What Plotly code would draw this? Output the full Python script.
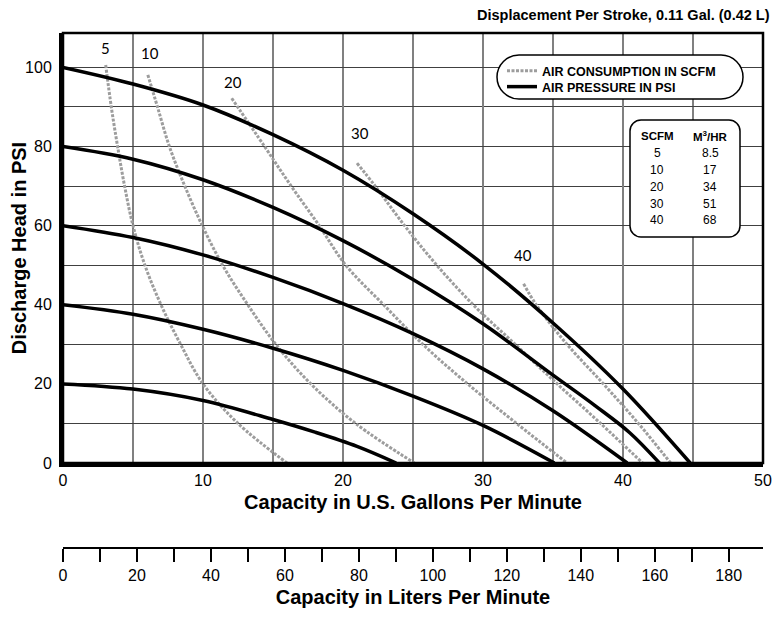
import plotly.graph_objects as go

# ---------------- data ----------------
GAL_TO_L = 3.785411784
GPM_MAX = 50
PSI_MAX = 108.7

# air pressure curves (PSI): capacity (gpm) vs discharge head (psi)
P20_GPM = [0, 5, 10, 15, 18, 21, 23.8]
P20_PSI = [20, 18.7, 15.8, 11.0, 7.8, 4.2, 0]
P40_GPM = [0, 5, 10, 15, 20, 25, 30, 35.1]
P40_PSI = [40, 37.6, 33.8, 29, 23.4, 16.9, 9.5, 0]
P60_GPM = [0, 5, 10, 15, 20, 25, 30, 35, 40.3]
P60_PSI = [60, 57, 52.6, 46.9, 40.3, 32.7, 23.8, 13.2, 0]
P80_GPM = [0, 5, 10, 15, 20, 25, 30, 35, 38, 40.5, 42.6]
P80_PSI = [80, 76.8, 71.6, 64.6, 56.2, 46.4, 35.2, 22.2, 14.5, 7.6, 0]
P100_GPM = [0, 5, 10, 15, 20, 25, 30, 35, 40, 44.8]
P100_PSI = [100, 95.8, 90.5, 83, 74, 63, 50.3, 35.4, 18.7, 0]

# air consumption curves (SCFM)
A5_GPM = [3.05, 3.45, 3.9, 4.4, 5.0, 5.85, 7.0, 8.4, 10.0, 12.5, 16.0]
A5_PSI = [100.6, 90, 80, 70, 60, 50, 40, 30, 20, 10, 0]
A10_GPM = [6.06, 6.75, 7.6, 8.7, 9.95, 11.4, 13.2, 15.2, 17.7, 20.9, 25.1]
A10_PSI = [98.1, 90, 80, 70, 60, 50, 40, 30, 20, 10, 0]
A20_GPM = [12.05, 14.4, 16.3, 18.3, 20.2, 22.9, 25.7, 28.9, 32.4, 36.0]
A20_PSI = [92.2, 80, 70, 60, 50, 40, 30, 20, 10, 0]
A30_GPM = [21.0, 22.3, 24.4, 26.7, 29.3, 32.3, 35.3, 38.4, 41.4]
A30_PSI = [75.8, 70, 60, 50, 40, 30, 20, 10, 0]
A40_GPM = [32.9, 33.8, 36.0, 38.6, 41.1, 43.4]
A40_PSI = [45.3, 40, 30, 20, 10, 0]

SCFM_LABELS = ["5", "10", "20", "30", "40"]
M3HR_LABELS = ["8.5", "17", "34", "51", "68"]

pressure = [(P20_GPM, P20_PSI), (P40_GPM, P40_PSI), (P60_GPM, P60_PSI),
            (P80_GPM, P80_PSI), (P100_GPM, P100_PSI)]
air = [(A5_GPM, A5_PSI), (A10_GPM, A10_PSI), (A20_GPM, A20_PSI),
       (A30_GPM, A30_PSI), (A40_GPM, A40_PSI)]

# ---------------- layout helpers ----------------
OFF = 8                      # page body margin
W, H = 784 - 2 * OFF, 622 - 2 * OFF
ML = 63 - OFF
MT = 33 - OFF
MR = W - (763 - OFF)
MB = H - (548 - OFF)
PW = W - ML - MR
PH = H - MT - MB


def pxx(x):
    """page x pixel -> paper fraction"""
    return (x - OFF - ML) / PW


def pxy(y):
    """page y pixel -> paper fraction"""
    return 1 - (y - OFF - MT) / PH


NARROW = "Liberation Sans Narrow, Arial Narrow, Liberation Sans, Arial, sans-serif"
REG = "Liberation Sans, Arial, sans-serif"

fig = go.Figure()

for i, (gx, gy) in enumerate(air):
    fig.add_trace(go.Scatter(
        x=gx, y=gy, mode="lines", name="AIR CONSUMPTION IN SCFM",
        legend="legend", legendgroup="air", showlegend=(i == 0), hoverinfo="skip",
        line=dict(color="#9d9d9d", width=3, dash="3px,1.5px",
                  shape="spline", smoothing=1.0)))

for i, (gx, gy) in enumerate(pressure):
    fig.add_trace(go.Scatter(
        x=gx, y=gy, mode="lines", name="AIR PRESSURE IN PSI",
        legend="legend2", legendgroup="psi", showlegend=(i == 0), hoverinfo="skip",
        line=dict(color="black", width=3.5, shape="spline", smoothing=1.0)))

# dummy trace to carry the liters axis
fig.add_trace(go.Scatter(x=[0, GPM_MAX * GAL_TO_L], y=[None, None], xaxis="x2",
                         mode="lines", showlegend=False, hoverinfo="skip"))

# curve labels at start of each air curve
label_shift = [(0, 17), (2, 22), (1, 16), (3, 30), (-1, 29)]
for (gx, gy), lab, (dx, dy) in zip(air, SCFM_LABELS, label_shift):
    fig.add_annotation(x=gx[0], y=gy[0], xref="x", yref="y", text=lab,
                       showarrow=False, xshift=dx, yshift=dy,
                       xanchor="center", yanchor="middle",
                       font=dict(family="Lato, Open Sans, sans-serif", size=15, color="black"))

y_dom0 = 1 - ((463 - OFF) - MT) / PH

leg_font = dict(family=NARROW, size=12.5, weight="bold", color="black")

fig.update_layout(
    width=W, height=H, margin=dict(l=ML, r=MR, t=MT, b=MB, autoexpand=False),
    paper_bgcolor="white", plot_bgcolor="white",
    font=dict(family=NARROW, size=16, color="black"),
    xaxis=dict(domain=[0, 1], range=[0, GPM_MAX], anchor="y", automargin=False,
               tickmode="linear", tick0=0, dtick=10,
               showgrid=True, gridcolor="#808080", gridwidth=1.8,
               minor=dict(dtick=5, showgrid=True, gridcolor="#808080", gridwidth=1.8),
               showline=True, linecolor="black", linewidth=4,
               ticks="", zeroline=False,
               tickfont=dict(family=NARROW, size=16),
               title=dict(text="Capacity in U.S. Gallons Per Minute",
                          font=dict(family=NARROW, size=20, weight="bold"), standoff=8)),
    yaxis=dict(domain=[y_dom0, 1], range=[0, PSI_MAX], anchor="x", automargin=False,
               tickmode="linear", tick0=0, dtick=20,
               showgrid=True, gridcolor="#404040", gridwidth=1.2,
               minor=dict(dtick=10, showgrid=True, gridcolor="#404040", gridwidth=1.2),
               showline=True, linecolor="black", linewidth=4,
               ticks="", zeroline=False, ticklabelstandoff=4,
               tickfont=dict(family=NARROW, size=16),
               title=dict(text="Discharge Head in PSI",
                          font=dict(family=NARROW, size=20, weight="bold"), standoff=6)),
    xaxis2=dict(overlaying="x", anchor="free", position=0, side="bottom", automargin=False,
                range=[0, GPM_MAX * GAL_TO_L],
                tickmode="linear", tick0=0, dtick=20,
                ticks="outside", ticklen=13, tickwidth=1.5, tickcolor="black",
                minor=dict(dtick=10, ticks="outside", ticklen=13, tickwidth=1.5,
                           tickcolor="black", showgrid=False),
                showline=True, linecolor="black", linewidth=1.5,
                showgrid=False, zeroline=False,
                tickfont=dict(family=NARROW, size=16),
                title=dict(text="Capacity in Liters Per Minute",
                           font=dict(family=NARROW, size=20, weight="bold"), standoff=6)),
    legend=dict(x=pxx(502), y=pxy(71), xanchor="left", yanchor="middle",
                bgcolor="rgba(0,0,0,0)", borderwidth=0, font=leg_font, itemwidth=30),
    legend2=dict(x=pxx(502), y=pxy(87), xanchor="left", yanchor="middle",
                 bgcolor="rgba(0,0,0,0)", borderwidth=0, font=leg_font, itemwidth=30),
    showlegend=True,
)

# plot frame
fig.add_shape(type="rect", xref="x domain", yref="y domain", x0=0, x1=1, y0=0, y1=1,
              line=dict(color="black", width=2.5), layer="above")


def rounded_path(w, h, r):
    k = 0.5523 * r
    return (f"M {r},0 L {w - r},0 C {w - r + k},0 {w},{-r + k} {w},{-r} "
            f"L {w},{-h + r} C {w},{-h + r - k} {w - r + k},{-h} {w - r},{-h} "
            f"L {r},{-h} C {r - k},{-h} 0,{-h + r - k} 0,{-h + r} "
            f"L 0,{-r} C 0,{-r + k} {r - k},0 {r},0 Z")


# legend pill
fig.add_shape(type="path", xref="paper", yref="paper", xsizemode="pixel", ysizemode="pixel",
              xanchor=pxx(497), yanchor=pxy(55), path=rounded_path(246, 44, 22),
              line=dict(color="black", width=1.5), fillcolor="white", layer="above")
# table box
fig.add_shape(type="path", xref="paper", yref="paper", xsizemode="pixel", ysizemode="pixel",
              xanchor=pxx(630), yanchor=pxy(120), path=rounded_path(110, 117, 11),
              line=dict(color="black", width=1.5), fillcolor="white", layer="above")

fig.add_annotation(x=pxx(657), y=pxy(136), xref="paper", yref="paper", text="SCFM",
                   xanchor="center", yanchor="middle",
                   showarrow=False, font=dict(family=NARROW, size=11.5, weight="bold"))
fig.add_annotation(x=pxx(710), y=pxy(136), xref="paper", yref="paper",
                   text="M<sup>3</sup>/HR", showarrow=False,
                   xanchor="center", yanchor="middle",
                   font=dict(family=NARROW, size=11.5, weight="bold"))
rows_y = [153, 170, 187, 204, 220]
for s, m, ry in zip(SCFM_LABELS, M3HR_LABELS, rows_y):
    fig.add_annotation(x=pxx(657), y=pxy(ry), xref="paper", yref="paper", text=s,
                       xanchor="center", yanchor="middle",
                       showarrow=False, font=dict(family=REG, size=12))
    fig.add_annotation(x=pxx(710), y=pxy(ry), xref="paper", yref="paper", text=m,
                       xanchor="center", yanchor="middle",
                       showarrow=False, font=dict(family=REG, size=12))

fig.add_annotation(x=pxx(772), y=pxy(15), xref="paper", yref="paper",
                   text="Displacement Per Stroke, 0.11 Gal. (0.42 L)",
                   xanchor="right", yanchor="middle", showarrow=False,
                   font=dict(family=NARROW, size=14.5, weight="bold"))

fig.write_html("out.html")
